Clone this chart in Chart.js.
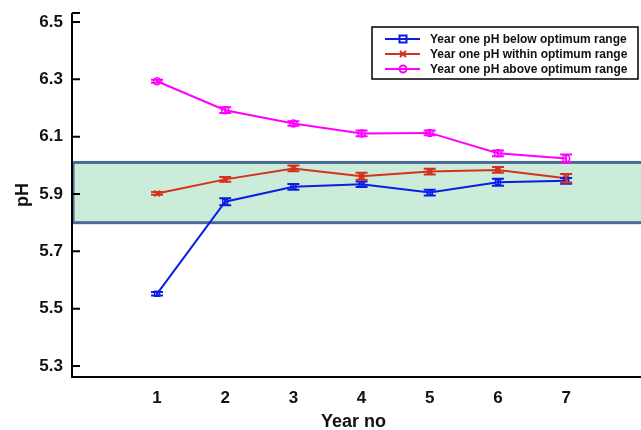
<!DOCTYPE html>
<html>
<head>
<meta charset="utf-8">
<script src="https://cdn.jsdelivr.net/npm/chart.js@4/dist/chart.umd.min.js"></script>
<style>
  html, body { margin: 0; padding: 0; background: #fff; }
  #wrap { width: 641px; height: 430px; }
</style>
</head>
<body>
<div id="wrap"><canvas id="phChart" width="641" height="430"></canvas></div>
<script>
// Year numbers on the x axis
const years = [1, 2, 3, 4, 5, 6, 7];
const yTicks = [5.3, 5.5, 5.7, 5.9, 6.1, 6.3, 6.5];

// Mean pH per year
const belowValues = [5.552, 5.873, 5.925, 5.934, 5.905, 5.941, 5.946];
const withinValues = [5.902, 5.951, 5.989, 5.962, 5.978, 5.984, 5.955];
const aboveValues = [6.293, 6.192, 6.146, 6.111, 6.113, 6.042, 6.024];

// Error bars (+/-)
const belowErr = [0.006, 0.012, 0.01, 0.01, 0.01, 0.012, 0.01];
const withinErr = [0.005, 0.008, 0.01, 0.012, 0.01, 0.01, 0.015];
const aboveErr = [0.005, 0.01, 0.008, 0.01, 0.008, 0.01, 0.014];

// Optimum range band
const optimumLow = 5.8;
const optimumHigh = 6.01;

const seriesNames = [
  'Year one pH below optimum range',
  'Year one pH within optimum range',
  'Year one pH above optimum range'
];

const toPoints = (vals) => vals.map((v, i) => ({ x: years[i], y: v }));
const FONT = '"Liberation Sans", Arial, sans-serif';

// Green band for the optimum range, behind the lines
const bandPlugin = {
  id: 'band',
  beforeDatasetsDraw(chart) {
    const { ctx, chartArea, scales } = chart;
    const top = scales.y.getPixelForValue(optimumHigh);
    const bot = scales.y.getPixelForValue(optimumLow);
    ctx.save();
    ctx.fillStyle = '#cbecd9';
    ctx.fillRect(chartArea.left, top, chartArea.right - chartArea.left + 10, bot - top);
    ctx.strokeStyle = '#4a6b94';
    ctx.lineWidth = 3;
    ctx.strokeRect(chartArea.left + 1, top, chartArea.right - chartArea.left + 10, bot - top);
    ctx.restore();
  }
};

// Error bars, axis lines, inward ticks and the boxed legend
const decorPlugin = {
  id: 'decor',
  afterDatasetsDraw(chart) {
    const { ctx, chartArea, scales } = chart;
    const errs = [belowErr, withinErr, aboveErr];
    ctx.save();
    chart.data.datasets.forEach((ds, di) => {
      ctx.strokeStyle = ds.borderColor;
      ctx.lineWidth = 2;
      ds.data.forEach((p, i) => {
        const x = scales.x.getPixelForValue(p.x);
        const y1 = scales.y.getPixelForValue(p.y + errs[di][i]);
        const y2 = scales.y.getPixelForValue(p.y - errs[di][i]);
        ctx.beginPath();
        ctx.moveTo(x, y1); ctx.lineTo(x, y2);
        ctx.moveTo(x - 6, y1); ctx.lineTo(x + 6, y1);
        ctx.moveTo(x - 6, y2); ctx.lineTo(x + 6, y2);
        ctx.stroke();
      });
    });

    // axes
    ctx.strokeStyle = '#000';
    ctx.lineWidth = 2;
    ctx.beginPath();
    ctx.moveTo(chartArea.left, chartArea.top);
    ctx.lineTo(chartArea.left, chartArea.bottom);
    ctx.lineTo(chartArea.right + 10, chartArea.bottom);
    ctx.moveTo(chartArea.left, chartArea.top);
    ctx.lineTo(chartArea.left + 8, chartArea.top);
    yTicks.forEach((t) => {
      const y = scales.y.getPixelForValue(t);
      ctx.moveTo(chartArea.left, y);
      ctx.lineTo(chartArea.left + 8, y);
    });
    ctx.stroke();

    // legend box
    const bx = 372, by = 27, bw = 266, bh = 52;
    ctx.fillStyle = '#fff';
    ctx.fillRect(bx, by, bw, bh);
    ctx.lineWidth = 1.5;
    ctx.strokeRect(bx, by, bw, bh);
    ctx.font = 'bold 12px ' + FONT;
    ctx.textBaseline = 'middle';
    chart.data.datasets.forEach((ds, di) => {
      const y = by + 12 + di * 15;
      ctx.strokeStyle = ds.borderColor;
      ctx.lineWidth = 2;
      ctx.beginPath();
      ctx.moveTo(bx + 13, y); ctx.lineTo(bx + 48, y);
      ctx.stroke();
      const mx = bx + 31;
      ctx.beginPath();
      if (ds.pointStyle === 'rect') {
        ctx.rect(mx - 3.5, y - 3.5, 7, 7);
      } else if (ds.pointStyle === 'circle') {
        ctx.arc(mx, y, 3.5, 0, Math.PI * 2);
      } else {
        ctx.moveTo(mx - 3, y - 3); ctx.lineTo(mx + 3, y + 3);
        ctx.moveTo(mx + 3, y - 3); ctx.lineTo(mx - 3, y + 3);
      }
      ctx.stroke();
      ctx.fillStyle = '#111';
      ctx.fillText(ds.label, bx + 58, y + 1);
    });
    ctx.restore();
  }
};

new Chart(document.getElementById('phChart'), {
  type: 'line',
  data: {
    datasets: [
      {
        label: seriesNames[0],
        data: toPoints(belowValues),
        borderColor: '#0a1ee6',
        backgroundColor: 'rgba(0,0,0,0)',
        pointStyle: 'rect',
        pointRadius: 3.5,
        borderWidth: 2,
        pointBorderWidth: 1.5
      },
      {
        label: seriesNames[1],
        data: toPoints(withinValues),
        borderColor: '#d4321e',
        backgroundColor: 'rgba(0,0,0,0)',
        pointStyle: 'crossRot',
        pointRadius: 4,
        borderWidth: 2,
        pointBorderWidth: 2
      },
      {
        label: seriesNames[2],
        data: toPoints(aboveValues),
        borderColor: '#ff00ff',
        backgroundColor: 'rgba(0,0,0,0)',
        pointStyle: 'circle',
        pointRadius: 3.5,
        borderWidth: 2,
        pointBorderWidth: 1.5
      }
    ]
  },
  options: {
    responsive: false,
    animation: false,
    layout: { padding: { top: 13, right: 0, left: 0, bottom: 0 } },
    plugins: { legend: { display: false }, tooltip: { enabled: false } },
    scales: {
      x: {
        type: 'linear',
        min: -0.247,
        max: 8.01,
        afterBuildTicks: (s) => { s.ticks = years.map((v) => ({ value: v })); },
        afterFit: (s) => { s.height = 53; s.paddingLeft = 0; s.paddingRight = 0; },
        grid: { display: false, drawTicks: false },
        border: { display: false },
        ticks: { color: '#111', padding: 11, font: { family: FONT, size: 17, weight: 'bold' } },
        title: { display: true, text: 'Year no', color: '#111', padding: { top: 5, bottom: -3 },
                 font: { family: FONT, size: 18, weight: 'bold' } }
      },
      y: {
        min: 5.262,
        max: 6.531,
        afterBuildTicks: (s) => { s.ticks = yTicks.map((v) => ({ value: v })); },
        afterFit: (s) => { s.width = 72; s.paddingTop = 0; s.paddingBottom = 0; },
        grid: { display: false, drawTicks: false },
        border: { display: false },
        ticks: { color: '#111', padding: 9, font: { family: FONT, size: 17, weight: 'bold' },
                 callback: (v) => v.toFixed(1) },
        title: { display: true, text: 'pH', color: '#111', padding: { top: 12, bottom: 0 },
                 font: { family: FONT, size: 18, weight: 'bold' } }
      }
    }
  },
  plugins: [bandPlugin, decorPlugin]
});
</script>
</body>
</html>
